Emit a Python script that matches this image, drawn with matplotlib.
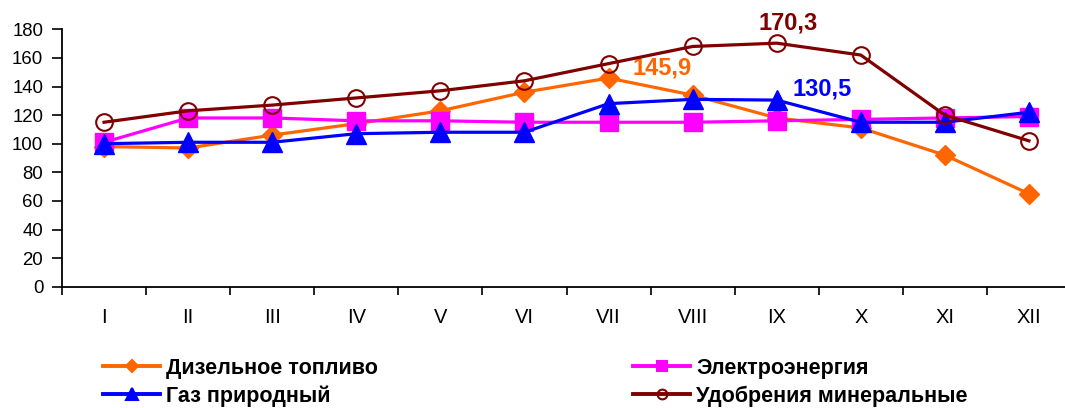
import matplotlib
matplotlib.use("Agg")
import matplotlib.pyplot as plt
from matplotlib.lines import Line2D

plt.rcParams['font.family'] = ['Liberation Sans', 'DejaVu Sans']

months = ["I", "II", "III", "IV", "V", "VI", "VII", "VIII", "IX", "X", "XI", "XII"]
diesel = [98, 97, 106, 114, 123, 136, 145.9, 134, 118, 111, 92, 65]
electro = [101, 118, 118, 116, 116, 115, 115, 115, 116, 117, 118, 119]
gas = [100, 101, 101, 107, 108, 108, 128, 131, 130.5, 115, 115, 122]
fert = [115, 123, 127, 132, 137, 144, 156, 168, 170.3, 162, 120, 102]

series_names = ["Дизельное топливо", "Электроэнергия", "Газ природный", "Удобрения минеральные"]

fig = plt.figure(figsize=(10.65, 4.08), dpi=100)
ax = fig.add_axes([62/1065, 1 - 286.7/408, 1009/1065, (286.7 - 29.3)/408])

x = list(range(len(months)))
ax.plot(x, diesel, color="#FF6600", lw=2.3, marker="D", ms=10.5, mec="#FF6600", mfc="#FF6600", zorder=3)
ax.plot(x, electro, color="#FF00FF", lw=2.3, marker="s", ms=13.5, mec="#FF00FF", mfc="#FF00FF", zorder=4)
ax.plot(x, gas, color="#0000FF", lw=2.3, marker="^", ms=14.5, mec="#0000FF", mfc="#0000FF", zorder=5)
ax.plot(x, fert, color="#800000", lw=2.3, marker="o", ms=12, mec="#800000", mfc="none", mew=1.5, zorder=6)

ax.set_xlim(-0.5, 11.5)
ax.set_ylim(0, 180)
ax.set_yticks(range(0, 181, 20))
ax.set_xticks([i - 0.5 for i in range(13)], minor=False)
ax.set_xticklabels([])
ax.set_xticks(x, minor=True)
ax.set_xticklabels(months, minor=True)
ax.tick_params(axis="x", which="minor", length=0, pad=15, labelsize=14.5)
ax.tick_params(axis="x", which="major", length=6, width=1.2, direction="out")
ax.tick_params(axis="y", length=7, width=1.2, direction="out", labelsize=13.4, pad=6.5)
for s in ["top", "right"]:
    ax.spines[s].set_visible(False)
for s in ["left", "bottom"]:
    ax.spines[s].set_linewidth(1.3)

ax.annotate("145,9", (6, diesel[6]), xytext=(17.3, 7.2), textcoords="offset points",
            color="#FF6600", fontsize=17, fontweight="bold", ha="left", va="center")
ax.annotate("130,5", (8, gas[8]), xytext=(11.5, 8.3), textcoords="offset points",
            color="#0000FF", fontsize=17, fontweight="bold", ha="left", va="center")
ax.annotate("170,3", (8, fert[8]), xytext=(8, 14.2), textcoords="offset points",
            color="#800000", fontsize=17, fontweight="bold", ha="center", va="center")

def h(c, m, ms, mfc):
    return Line2D([], [], color=c, lw=2.8, marker=m, ms=ms, mec=c, mfc=mfc, mew=1.5)
handles = [h("#FF6600", "D", 6, "#FF6600"), h("#0000FF", "^", 8, "#0000FF"),
           h("#FF00FF", "s", 7, "#FF00FF"), h("#800000", "o", 7, "none")]
labels = [series_names[0], series_names[2], series_names[1], series_names[3]]
fig.legend(handles, labels, loc="upper left", bbox_to_anchor=(103/1065, 1 - 358/408),
           ncol=2, frameon=False, prop={"weight": "bold", "size": 15.5},
           handlelength=2.65, handletextpad=0.28, columnspacing=11.85, labelspacing=0.3,
           borderaxespad=0, borderpad=0)

fig.savefig("out.png", dpi=100)
